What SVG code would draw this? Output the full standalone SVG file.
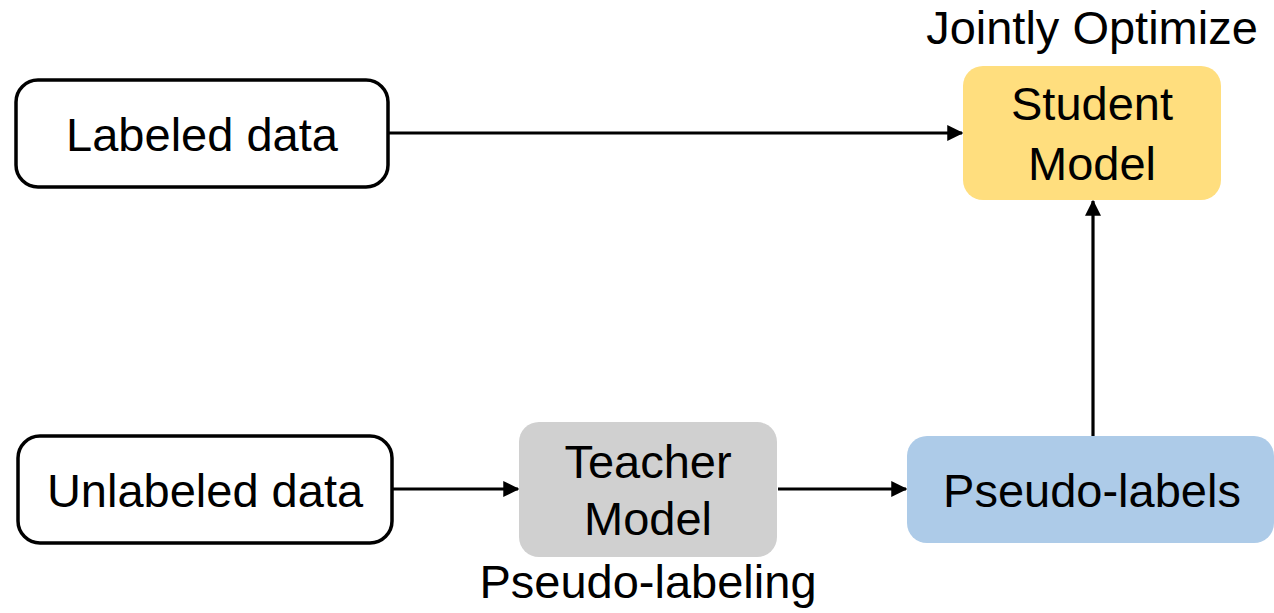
<svg xmlns="http://www.w3.org/2000/svg" width="1274" height="613" viewBox="0 0 1274 613">
<style>
text{font-family:"Liberation Sans",Arial,sans-serif;font-size:47px;fill:#000;text-anchor:middle}
.outline{fill:#fff;stroke:#000;stroke-width:3.5}
.conn{stroke:#000;stroke-width:3.2;fill:none}
</style>
<defs>
<marker id="arr" markerWidth="5" markerHeight="5" refX="4.6" refY="2.5" orient="auto" markerUnits="strokeWidth">
<path d="M0,0 L5,2.5 L0,5 Z" fill="#000"/>
</marker>
</defs>
<rect width="1274" height="613" fill="#fff"/>
<g id="connectors">
<line class="conn" x1="389" y1="133" x2="962" y2="133" marker-end="url(#arr)"/>
<line class="conn" x1="393" y1="489" x2="518" y2="489" marker-end="url(#arr)"/>
<line class="conn" x1="778" y1="489" x2="906" y2="489" marker-end="url(#arr)"/>
<line class="conn" x1="1093" y1="436" x2="1093" y2="201" marker-end="url(#arr)"/>
</g>
<g id="labeled">
<rect class="outline" x="16" y="80" width="372" height="107" rx="22"/>
<text x="202" y="151">Labeled data</text>
</g>
<g id="unlabeled">
<rect class="outline" x="18" y="436" width="374" height="107" rx="22"/>
<text x="205" y="507">Unlabeled data</text>
</g>
<g id="teacher">
<rect x="519" y="422" width="258" height="135" rx="20" fill="#D0D0D0"/>
<text x="648" y="478">Teacher</text>
<text x="648" y="535">Model</text>
<text x="648" y="598">Pseudo-labeling</text>
</g>
<g id="pseudo">
<rect x="907" y="436" width="367" height="107" rx="20" fill="#ADCBE8"/>
<text x="1092" y="507">Pseudo-labels</text>
</g>
<g id="student">
<rect x="963" y="66" width="258" height="134" rx="20" fill="#FFDE7E"/>
<text x="1092" y="120">Student</text>
<text x="1092" y="180">Model</text>
<text x="1092" y="44">Jointly Optimize</text>
</g>
</svg>
